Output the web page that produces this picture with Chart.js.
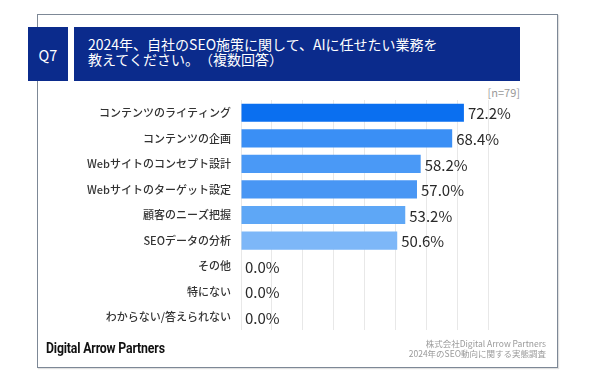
<!DOCTYPE html>
<html lang="ja">
<head>
<meta charset="utf-8">
<script src="https://cdn.jsdelivr.net/npm/chart.js@4.4.1/dist/chart.umd.min.js"></script>
<style>
  html, body { margin: 0; padding: 0; background: #fff; }
  body { width: 600px; height: 378px; position: relative; overflow: hidden; font-family: "Noto Sans CJK JP", "Noto Sans", sans-serif; }
  #frame { position: absolute; left: 37px; top: 14px; width: 521px; height: 354px; border: 1px solid #7d8896; box-sizing: border-box; background: #fff; box-shadow: 1px 1px 1px rgba(0,0,0,0.12); }
  #q { position: absolute; left: 28px; top: 27px; width: 40px; height: 54px; background: #0b2b8c; color: #fff; font-size: 14.5px; display: flex; align-items: center; justify-content: center; }
  #title { position: absolute; left: 74px; top: 27px; width: 446px; height: 54px; background: #0b2b8c; color: #fff; font-size: 14px; line-height: 14.5px; box-sizing: border-box; padding: 10px 0 0 14px; text-spacing-trim: space-all; }
  #n { position: absolute; right: 80px; top: 84px; font-size: 11px; color: #9a9a9a; }
  #brand { position: absolute; left: 46px; top: 340px; font-family: "Roboto", sans-serif; font-weight: bold; font-size: 14px; color: #111; letter-spacing: -0.2px; transform: scaleX(0.88); transform-origin: left center; white-space: nowrap; }
  #src { position: absolute; right: 54px; top: 338px; font-size: 8.5px; line-height: 10px; color: #9a9a9a; text-align: right; }
  canvas { position: absolute; left: 0; top: 0; }
</style>
</head>
<body>
<div id="frame"></div>
<div id="q">Q7</div>
<div id="title">2024年、自社のSEO施策に関して、AIに任せたい業務を<br>教えてください。（複数回答）</div>
<div id="n">[n=79]</div>
<canvas id="c" width="600" height="378"></canvas>
<div id="brand">Digital Arrow Partners</div>
<div id="src">株式会社Digital Arrow Partners<br>2024年のSEO動向に関する実態調査</div>
<script>
const categories = [
  "コンテンツのライティング",
  "コンテンツの企画",
  "Webサイトのコンセプト設計",
  "Webサイトのターゲット設定",
  "顧客のニーズ把握",
  "SEOデータの分析",
  "その他",
  "特にない",
  "わからない/答えられない"
];
const values = [72.2, 68.4, 58.2, 57.0, 53.2, 50.6, 0.0, 0.0, 0.0];
const barColors = ["#0a6ff0", "#3a8ff5", "#4a99f6", "#4896f4", "#5ea7f6", "#7db7f8", "#9cc8fa", "#9cc8fa", "#9cc8fa"];

const valueLabels = {
  id: "valueLabels",
  afterDatasetsDraw(chart) {
    const ctx = chart.ctx;
    const meta = chart.getDatasetMeta(0);
    ctx.save();
    ctx.font = '15px "Noto Sans CJK JP", "Noto Sans", sans-serif';
    ctx.fillStyle = "#2a2a2a";
    ctx.textAlign = "left";
    ctx.textBaseline = "middle";
    meta.data.forEach((bar, i) => {
      ctx.fillText(values[i].toFixed(1) + "%", bar.x + 4, bar.y + 1);
    });
    ctx.restore();
  }
};

new Chart(document.getElementById("c"), {
  type: "bar",
  data: {
    labels: categories,
    datasets: [{
      data: values,
      backgroundColor: barColors,
      borderWidth: 0,
      barPercentage: 0.71,
      categoryPercentage: 1.0
    }]
  },
  options: {
    indexAxis: "y",
    responsive: false,
    animation: false,
    devicePixelRatio: 1,
    layout: { padding: { top: 100, bottom: 48, right: 112, left: 0 } },
    plugins: { legend: { display: false }, tooltip: { enabled: false } },
    scales: {
      x: {
        min: 0, max: 80,
        ticks: { display: false, stepSize: 10 },
        grid: { color: "#e8e8e8", drawTicks: false },
        border: { display: false }
      },
      y: {
        grid: { display: false, drawTicks: false },
        border: { display: false },
        ticks: {
          color: "#333",
          padding: 10,
          font: { family: '"Noto Sans CJK JP", "Noto Sans", sans-serif', size: 11, weight: 500 }
        },
        afterFit(scale) { scale.width = 241; }
      }
    }
  },
  plugins: [valueLabels]
});
</script>
</body>
</html>
